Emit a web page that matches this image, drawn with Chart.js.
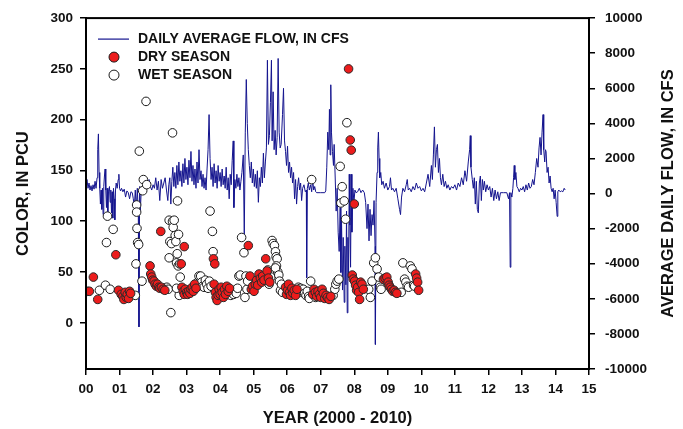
<!DOCTYPE html>
<html><head><meta charset="utf-8">
<script src="https://cdn.jsdelivr.net/npm/chart.js@4.4.1/dist/chart.umd.min.js"></script>
<style>html,body{margin:0;padding:0;background:#fff;}#wrap{width:683px;height:429px;}</style>
</head><body><div id="wrap"><canvas id="c" width="683" height="429"></canvas></div>
<script>
// ---- data ----
const yearTickLabels = ['00','01','02','03','04','05','06','07','08','09','10','11','12','13','14','15'];
const colorTicks = [0,50,100,150,200,250,300];
const flowTicks = [-10000,-8000,-6000,-4000,-2000,0,2000,4000,6000,8000,10000];
const rightAxisTitle = 'AVERAGE DAILY FLOW, IN CFS';

// daily average flow, cfs: [year since 2000, flow]
const flowPoints = [
[0.00,500],[0.03,800],[0.06,300],[0.09,600],[0.12,200],[0.15,450],[0.18,150],[0.21,500],[0.24,250],[0.27,700],
[0.30,300],[0.33,900],[0.35,2500],[0.37,3400],[0.39,1200],[0.41,300],[0.43,-600],[0.45,200],[0.47,-900],[0.49,300],
[0.51,-1200],[0.53,400],[0.55,1000],[0.57,1400],[0.59,200],[0.61,-800],[0.63,300],[0.65,-1300],[0.67,100],[0.70,400],
[0.72,-500],[0.74,200],[0.76,-1100],[0.78,100],[0.80,-1400],[0.82,300],[0.84,-300],[0.86,-1500],[0.88,200],[0.90,600],
[0.93,300],[0.96,800],[0.98,1100],[1.00,300],[1.03,150],[1.06,300],[1.10,100],[1.14,250],[1.18,-200],[1.22,150],
[1.26,50],[1.30,-300],[1.34,100],[1.38,50],[1.41,-300],[1.44,-800],[1.47,200],[1.50,-900],[1.53,300],[1.56,-1200],
[1.58,-7600],[1.60,400],[1.62,-1000],[1.65,300],[1.68,100],[1.72,400],[1.76,200],[1.80,600],[1.84,300],[1.88,800],
[1.92,400],[1.96,200],[2.00,500],[2.04,300],[2.08,900],[2.12,200],[2.16,700],[2.20,-400],[2.24,800],[2.28,300],
[2.32,600],[2.36,900],[2.40,200],[2.44,-400],[2.47,500],[2.50,900],[2.53,-600],[2.56,700],[2.59,1500],[2.62,400],
[2.65,1200],[2.68,300],[2.71,1600],[2.74,500],[2.77,1800],[2.80,700],[2.83,1300],[2.86,400],[2.89,1700],[2.92,600],
[2.95,2000],[2.98,800],[3.01,1500],[3.04,500],[3.07,1900],[3.10,900],[3.13,2400],[3.16,700],[3.19,1600],[3.22,500],
[3.25,1400],[3.28,300],[3.31,1800],[3.34,600],[3.37,2500],[3.40,800],[3.43,1300],[3.46,400],[3.49,1100],[3.52,300],
[3.55,900],[3.58,200],[3.61,1400],[3.64,2500],[3.67,4500],[3.70,2000],[3.73,800],[3.76,1500],[3.79,400],[3.82,1700],
[3.85,600],[3.88,1300],[3.91,300],[3.94,1600],[3.97,700],[4.00,1200],[4.03,400],[4.06,1400],[4.09,500],[4.12,1000],
[4.15,300],[4.18,1500],[4.21,200],[4.24,900],[4.27,-300],[4.30,1100],[4.33,500],[4.36,1900],[4.39,3000],[4.41,-800],
[4.44,800],[4.47,300],[4.50,1100],[4.53,400],[4.56,900],[4.59,200],[4.62,700],[4.65,1200],[4.69,2200],[4.72,-2400],
[4.75,3500],[4.78,6500],[4.81,4000],[4.84,2500],[4.87,1600],[4.90,900],[4.93,1800],[4.96,600],[4.99,1400],[5.02,400],
[5.05,1100],[5.08,300],[5.11,1300],[5.14,-500],[5.17,900],[5.20,400],[5.23,1500],[5.26,600],[5.29,2300],[5.32,900],
[5.35,1800],[5.38,2600],[5.41,7600],[5.44,2800],[5.47,3300],[5.50,5200],[5.53,7600],[5.55,3000],[5.58,5800],[5.61,2500],
[5.64,3600],[5.67,2200],[5.70,3200],[5.73,7700],[5.76,3500],[5.79,2600],[5.82,2800],[5.86,4500],[5.89,6000],[5.92,3000],
[5.95,2400],[5.98,1600],[6.01,2700],[6.04,1200],[6.07,1800],[6.10,900],[6.13,1500],[6.16,600],[6.19,1200],[6.22,-300],
[6.25,800],[6.28,-600],[6.31,400],[6.34,900],[6.37,200],[6.40,600],[6.43,-400],[6.46,300],[6.50,500],[6.54,100],
[6.57,200],[6.58,-4800],[6.60,300],[6.63,600],[6.66,200],[6.70,500],[6.73,100],[6.76,800],[6.79,200],[6.82,400],
[6.85,100],[6.88,50],[7.00,50],[7.12,50],[7.15,150],[7.18,1500],[7.21,3500],[7.24,2500],[7.26,4800],[7.28,2200],
[7.30,6200],[7.32,3500],[7.35,2400],[7.38,1600],[7.40,2800],[7.43,1000],[7.46,-1000],[7.49,300],[7.52,-2200],[7.55,-3300],
[7.58,-800],[7.60,-4500],[7.62,-1500],[7.65,-5500],[7.67,-2500],[7.70,-6200],[7.72,-3000],[7.75,-5200],[7.77,-1000],[7.79,-6800],
[7.81,-2500],[7.83,-4800],[7.85,1100],[7.87,-1800],[7.89,-4200],[7.91,1100],[7.93,-2200],[7.96,300],[7.99,-500],[8.02,200],
[8.05,50],[8.10,100],[8.15,300],[8.20,50],[8.25,200],[8.30,50],[8.34,-500],[8.38,-2000],[8.41,-600],[8.44,-2700],
[8.47,-900],[8.50,-2400],[8.53,-1200],[8.56,-1800],[8.59,-400],[8.62,-3000],[8.63,-8600],[8.65,-500],[8.68,1200],[8.70,2600],
[8.72,3500],[8.74,2000],[8.76,900],[8.79,1200],[8.82,500],[8.86,700],[8.90,300],[8.95,600],[9.00,200],[9.05,400],
[9.08,900],[9.11,200],[9.15,300],[9.20,100],[9.25,300],[9.30,-300],[9.35,-900],[9.38,-1200],[9.41,-200],[9.45,300],
[9.50,100],[9.55,500],[9.58,800],[9.61,200],[9.65,300],[9.70,100],[9.75,400],[9.80,200],[9.85,600],[9.90,300],
[9.95,400],[10.00,150],[10.05,300],[10.10,100],[10.15,600],[10.20,1100],[10.25,400],[10.30,1600],[10.33,800],[10.36,2200],
[10.39,3800],[10.42,1500],[10.45,2500],[10.48,2800],[10.51,1200],[10.54,2000],[10.57,900],[10.60,500],[10.64,1100],[10.68,400],
[10.72,700],[10.76,300],[10.80,500],[10.85,200],[10.90,400],[10.95,300],[11.00,500],[11.05,200],[11.10,600],[11.15,400],
[11.20,900],[11.25,500],[11.30,1300],[11.35,700],[11.40,1800],[11.44,2500],[11.46,3300],[11.48,1500],[11.52,800],[11.55,300],
[11.58,900],[11.61,-600],[11.64,700],[11.67,-900],[11.70,-1100],[11.73,600],[11.76,1000],[11.79,-400],[11.82,800],[11.85,200],
[11.88,700],[11.92,100],[11.96,500],[12.00,200],[12.04,400],[12.08,-200],[12.12,300],[12.16,-400],[12.20,200],[12.24,-300],
[12.28,100],[12.32,-400],[12.36,50],[12.45,50],[12.55,50],[12.60,-300],[12.63,50],[12.65,-4200],[12.67,50],[12.70,-200],
[12.73,300],[12.75,900],[12.77,1600],[12.79,800],[12.82,1200],[12.85,400],[12.88,300],[12.92,100],[12.96,300],[13.00,200],
[13.04,400],[13.08,100],[13.12,500],[13.16,200],[13.20,600],[13.24,300],[13.28,400],[13.32,800],[13.36,500],[13.40,1200],
[13.44,2000],[13.48,1500],[13.51,2600],[13.54,3200],[13.57,2200],[13.60,3500],[13.63,4500],[13.65,2500],[13.68,1800],[13.70,2500],
[13.72,2400],[13.75,1200],[13.78,1500],[13.81,600],[13.84,1000],[13.87,300],[13.90,100],[13.93,300],[13.96,-300],[13.99,200],
[14.02,-500],[14.05,-1300],[14.07,100],[14.10,200],[14.14,100],[14.18,150],[14.22,100],[14.26,300],[14.29,200]
];

// color, PCU: [year since 2000, color]
const drySeason = [
[0.05,31],[0.10,31],[0.22,45],[0.35,23],[0.89,67],[0.97,32],[1.05,28],[1.10,26],[1.13,23],[1.17,30],[1.20,25],[1.23,28],[1.27,24],[1.30,31],[1.33,29],
[1.91,56],[1.93,48],[1.96,45],[1.99,42],[2.03,41],[2.06,38],[2.10,36],[2.13,38],[2.17,35],[2.20,34],[2.23,90],[2.25,35],[2.30,33],[2.35,32],
[2.84,58],[2.93,75],[2.86,35],[2.90,31],[2.93,28],[2.96,33],[3.00,30],[3.03,28],[3.06,31],[3.10,29],[3.13,33],[3.17,35],[3.20,31],[3.24,38],[3.28,34],
[3.80,63],[3.84,58],[3.82,38],[3.86,30],[3.88,25],[3.91,22],[3.94,27],[3.97,33],[4.00,28],[4.03,35],[4.06,30],[4.10,25],[4.13,33],[4.16,28],[4.20,36],[4.24,31],[4.28,34],
[4.84,76],[4.89,46],[4.93,33],[4.97,36],[5.01,31],[5.05,38],[5.09,42],[5.12,37],[5.16,48],[5.20,44],[5.24,40],[5.27,46],[5.31,42],[5.36,63],[5.40,51],[5.44,44],[5.48,40],
[5.95,35],[5.98,28],[6.01,32],[6.04,38],[6.07,30],[6.10,27],[6.14,34],[6.17,29],[6.21,32],[6.25,27],[6.29,33],
[6.76,28],[6.80,33],[6.84,30],[6.88,26],[6.92,31],[6.96,28],[7.00,25],[7.04,33],[7.08,29],[7.12,24],[7.16,27],[7.20,25],[7.25,23],[7.30,26],
[7.83,250],[7.88,180],[7.91,170],[8.00,117],[7.94,47],[7.97,43],[8.01,41],[8.04,37],[8.07,32],[8.10,35],[8.13,30],[8.16,23],[8.19,40],[8.23,38],[8.27,33],
[8.87,43],[8.92,44],[8.97,45],[9.01,40],[9.04,37],[9.07,35],[9.11,33],[9.15,31],[9.19,32],[9.23,30],[9.27,29],
[9.83,48],[9.86,44],[9.89,40],[9.92,32]
];
const wetSeason = [
[0.40,32],[0.58,37],[0.61,79],[0.64,105],[0.72,33],[0.81,92],
[1.47,27],[1.49,58],[1.51,116],[1.51,109],[1.52,93],[1.54,79],[1.57,77],[1.59,169],[1.67,41],[1.69,130],[1.71,141],[1.79,218],[1.81,136],
[2.41,35],[2.45,33],[2.48,101],[2.48,64],[2.50,80],[2.53,10],[2.55,78],[2.58,187],[2.58,100],[2.60,94],[2.63,101],[2.66,86],[2.68,80],[2.70,59],[2.72,68],[2.75,56],[2.73,120],[2.76,87],[2.79,58],[2.81,45],[2.78,27],[2.70,34],
[3.33,40],[3.37,46],[3.42,46],[3.45,40],[3.48,36],[3.52,35],[3.56,42],[3.60,38],[3.64,34],[3.68,41],[3.70,110],[3.73,36],[3.77,90],[3.79,70],
[4.32,27],[4.36,30],[4.40,28],[4.44,32],[4.48,29],[4.52,34],[4.56,46],[4.60,47],[4.64,84],[4.71,69],[4.74,25],[4.77,46],[4.80,33],[4.82,41],
[5.42,52],[5.46,38],[5.51,45],[5.55,81],[5.58,78],[5.62,76],[5.65,70],[5.67,65],[5.70,63],[5.68,56],[5.72,50],[5.65,54],[5.75,47],[5.77,41],[5.80,32],[5.83,38],[5.86,30],
[6.33,35],[6.37,31],[6.40,34],[6.44,30],[6.48,33],[6.52,29],[6.56,27],[6.60,31],[6.64,26],[6.66,24],[6.70,41],[6.73,141],[6.85,25],
[7.37,27],[7.42,33],[7.45,38],[7.49,41],[7.54,43],[7.58,154],[7.60,118],[7.64,134],[7.70,120],[7.74,102],[7.78,197],
[8.43,33],[8.48,25],[8.53,41],[8.58,59],[8.63,64],[8.68,53],[8.73,45],[8.78,35],[8.80,33],
[9.40,30],[9.45,59],[9.50,43],[9.54,40],[9.58,36],[9.62,35],[9.67,56],[9.72,53],[9.77,37],[9.80,36]
];

// ---- chart ----
const FONT = "'Liberation Sans', Arial, Helvetica, sans-serif";
const toXY = a => a.map(p => ({x: p[0], y: p[1]}));
const FLOW_COLOR = '#14148e';
const DRY_FILL = '#ec1c1c';
const tickFont = {family: FONT, size: 13.5, weight: 'bold'};
const titleFont = {family: FONT, size: 16.5, weight: 'bold'};

const frameAndLegend = {
  id: 'frameAndLegend',
  afterDraw(chart) {
    const {ctx, chartArea: a} = chart;
    ctx.save();
    ctx.strokeStyle = '#000';
    ctx.lineWidth = 2;
    ctx.strokeRect(a.left, a.top, a.right - a.left, a.bottom - a.top);
    // right axis title, reading bottom-to-top
    ctx.save();
    ctx.translate(chart.scales.y2.right - 15, (a.top + a.bottom) / 2);
    ctx.rotate(-Math.PI / 2);
    ctx.font = 'bold 16.5px ' + FONT;
    ctx.fillStyle = '#111';
    ctx.textAlign = 'center';
    ctx.textBaseline = 'middle';
    ctx.fillText(rightAxisTitle, 0, 0);
    ctx.restore();
    // legend
    const ds = chart.data.datasets;
    const lx = a.left + 28, tx = a.left + 52;
    const rows = [a.top + 21, a.top + 39, a.top + 57];
    ctx.font = 'bold 14px ' + FONT;
    ctx.textBaseline = 'middle';
    ctx.textAlign = 'left';
    ctx.fillStyle = '#111';
    ctx.strokeStyle = FLOW_COLOR; ctx.lineWidth = 1.2;
    ctx.beginPath(); ctx.moveTo(a.left + 12, rows[0]); ctx.lineTo(a.left + 43, rows[0]); ctx.stroke();
    ctx.fillText(ds[0].label, tx, rows[0]);
    for (let i = 1; i <= 2; i++) {
      ctx.beginPath(); ctx.arc(lx, rows[i], 5, 0, Math.PI * 2);
      ctx.fillStyle = ds[i].backgroundColor; ctx.fill();
      ctx.lineWidth = 1; ctx.strokeStyle = '#1a1a1a'; ctx.stroke();
      ctx.fillStyle = '#111';
      ctx.fillText(ds[i].label, tx, rows[i]);
    }
    ctx.restore();
  }
};

const gridOpts = {display: true, drawOnChartArea: false, drawTicks: true, tickLength: 6, color: '#000', tickColor: '#000', lineWidth: 1.5};
const borderOpts = {display: true, color: '#000', width: 2};

new Chart(document.getElementById('c'), {
  type: 'scatter',
  data: {
    datasets: [
      {label: 'DAILY AVERAGE FLOW, IN CFS', type: 'line', data: toXY(flowPoints), xAxisID: 'x', yAxisID: 'y2',
       borderColor: FLOW_COLOR, backgroundColor: FLOW_COLOR, borderWidth: 1, pointRadius: 0, tension: 0, fill: false, order: 3},
      {label: 'DRY SEASON', data: toXY(drySeason), xAxisID: 'x', yAxisID: 'y',
       backgroundColor: DRY_FILL, borderColor: '#2a2a2a', borderWidth: 1, pointRadius: 4.3, order: 1},
      {label: 'WET SEASON', data: toXY(wetSeason), xAxisID: 'x', yAxisID: 'y',
       backgroundColor: '#ffffff', borderColor: '#1a1a1a', borderWidth: 1, pointRadius: 4.3, order: 2}
    ]
  },
  options: {
    responsive: false, animation: false, devicePixelRatio: 1,
    layout: {padding: {top: 16, right: 0, bottom: 0, left: 0}},
    plugins: {legend: {display: false}, tooltip: {enabled: false}},
    scales: {
      x: {
        type: 'linear', position: 'bottom', min: 0, max: 15,
        afterBuildTicks: s => { s.ticks = yearTickLabels.map((_, i) => ({value: i})); },
        afterFit: s => { s.height = 60; },
        ticks: {font: tickFont, color: '#111', padding: 6, maxRotation: 0, autoSkip: false,
                callback: v => yearTickLabels[Math.round(v)]},
        grid: gridOpts, border: borderOpts,
        title: {display: true, text: 'YEAR (2000 - 2010)', font: titleFont, color: '#111', padding: {top: 0, bottom: 1}}
      },
      y: {
        type: 'linear', position: 'left', min: -45.5, max: 300,
        afterBuildTicks: s => { s.ticks = colorTicks.map(v => ({value: v})); },
        afterFit: s => { s.width = 86; },
        ticks: {font: tickFont, color: '#111', padding: 7, autoSkip: false, callback: v => String(v)},
        grid: gridOpts, border: borderOpts,
        title: {display: true, text: 'COLOR, IN PCU', font: titleFont, color: '#111', padding: {top: 14, bottom: 0}}
      },
      y2: {
        type: 'linear', position: 'right', min: -10000, max: 10000,
        afterBuildTicks: s => { s.ticks = flowTicks.map(v => ({value: v})); },
        afterFit: s => { s.width = 94; },
        ticks: {font: tickFont, color: '#111', padding: 10, autoSkip: false, callback: v => String(v)},
        grid: gridOpts, border: borderOpts,
        title: {display: false}
      }
    }
  },
  plugins: [frameAndLegend]
});
</script>
</body></html>
